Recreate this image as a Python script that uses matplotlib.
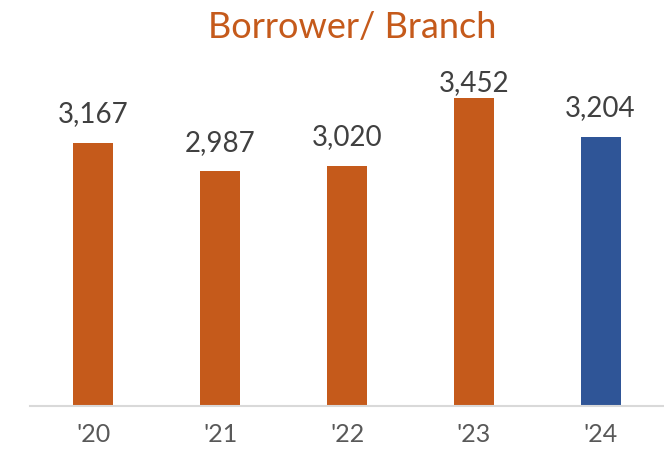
import matplotlib.pyplot as plt

plt.rcParams['font.family'] = ['Lato', 'DejaVu Sans']

years = ["'20", "'21", "'22", "'23", "'24"]
borrowers_per_branch = [3167, 2987, 3020, 3452, 3204]
bar_colors = ['#C55A1B', '#C55A1B', '#C55A1B', '#C55A1B', '#2F5597']

y_bottom, y_top = 1500, 3585

fig = plt.figure(figsize=(6.64, 4.55), dpi=100)
ax = fig.add_axes([30 / 664, 49 / 455, 634 / 664, 329 / 455])

x = range(len(years))
ax.bar(x, borrowers_per_branch, width=0.315, color=bar_colors, bottom=0)
ax.set_xlim(-0.5, len(years) - 0.5)
ax.set_ylim(y_bottom, y_top)

# data labels sit above each bar, but are kept inside the plot area
gap = 100
label_h = 120
for i, v in enumerate(borrowers_per_branch):
    y_lab = min(v + gap, y_top - label_h)
    ax.text(i, y_lab, f'{v:,}', ha='center', va='bottom',
            fontsize=20, color='#404040')

ax.set_xticks(list(x))
ax.set_xticklabels(years, fontsize=18, color='#595959')
ax.tick_params(axis='x', length=0, pad=12)
ax.set_yticks([])
for side in ['left', 'right', 'top']:
    ax.spines[side].set_visible(False)
ax.spines['bottom'].set_color('#D9D9D9')
ax.spines['bottom'].set_linewidth(1.5)

fig.text(352 / 664, 1 - 28 / 455, 'Borrower/ Branch', ha='center', va='center',
         fontsize=26, color='#C55A1B')

fig.savefig('out.png', dpi=100)
